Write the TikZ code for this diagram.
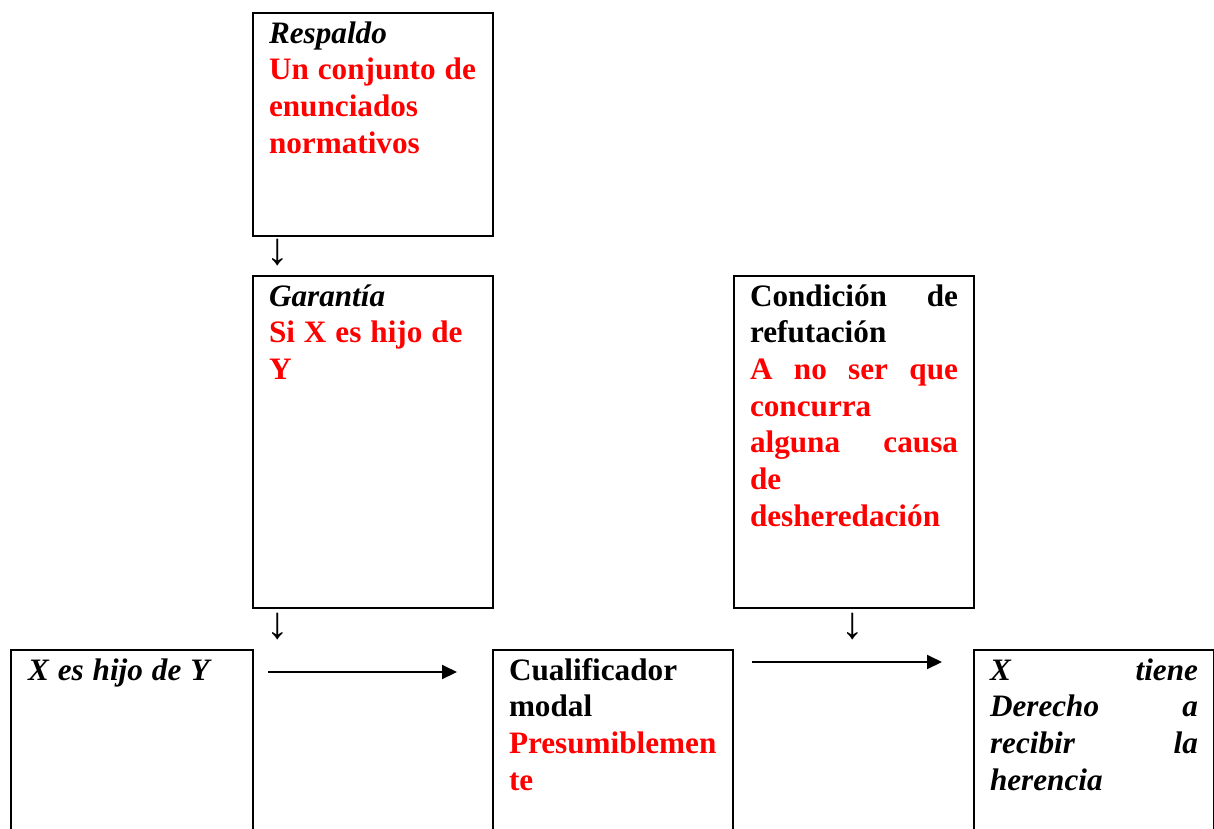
\documentclass[tikz,border=0pt]{standalone}
\usepackage{fontspec}
\setmainfont{Liberation Serif}[WordSpace=1.15]
\usetikzlibrary{arrows.meta}

\begin{document}
\begin{tikzpicture}[x=1pt,y=-1pt,
    caja/.style={draw, line width=2pt, anchor=north west, inner xsep=16pt, inner ysep=0pt,
      text width=208pt, align=flush left, text height=30pt,
      font=\fontsize{31.2}{36.7}\selectfont\bfseries},
    flecha/.style={inner sep=0pt, font=\fontsize{45}{45}\selectfont},
    enlace/.style={line width=2pt, -{Triangle[length=15pt,width=14pt]}}]
    \useasboundingbox (0,0) rectangle (1214,828);

    % Upper boxes
    \node[caja, text depth=193pt] (respaldo) at (252,12)
        {\textit{Respaldo}\\\color{red}Un conjunto de\\enunciados\\normativos};
    \node[caja, text depth=302pt] (garantia) at (252,275)
        {\textit{Garantía}\\\color{red}Si X es hijo de\\Y};
    \node[caja, text depth=302pt] (refutacion) at (733,275)
        {Condición \hfill de\\refutación\\\color{red}A \hfill no \hfill ser \hfill que\\concurra\\alguna \hfill causa\\de\\desheredación};

    % Lower boxes (cut by the page edge)
    \node[caja, text depth=170pt, inner xsep=17pt] (dato) at (10,649)
        {\textit{X es hijo de Y}};
    \node[caja, text depth=170pt] (cualificador) at (492,649)
        {Cualificador\\modal\\\color{red}Presumiblemen\\te};
    \node[caja, text depth=170pt] (conclusion) at (973,649)
        {\itshape X \hfill tiene\\Derecho \hfill a\\recibir \hfill la\\herencia};

    % Down arrows written as characters
    \node[flecha] (flechaA) at (278,253) {↓};
    \node[flecha] (flechaB) at (278,627) {↓};
    \node[flecha] (flechaC) at (853,627) {↓};

    % Horizontal arrows
    \coordinate (datoFin) at (268,672);
    \coordinate (cualIni) at (457,672);
    \coordinate (cualFin) at (752,662);
    \coordinate (conclIni) at (942,662);
    \draw[enlace] (datoFin) -- (cualIni);
    \draw[enlace] (cualFin) -- (conclIni);
\end{tikzpicture}
\end{document}
